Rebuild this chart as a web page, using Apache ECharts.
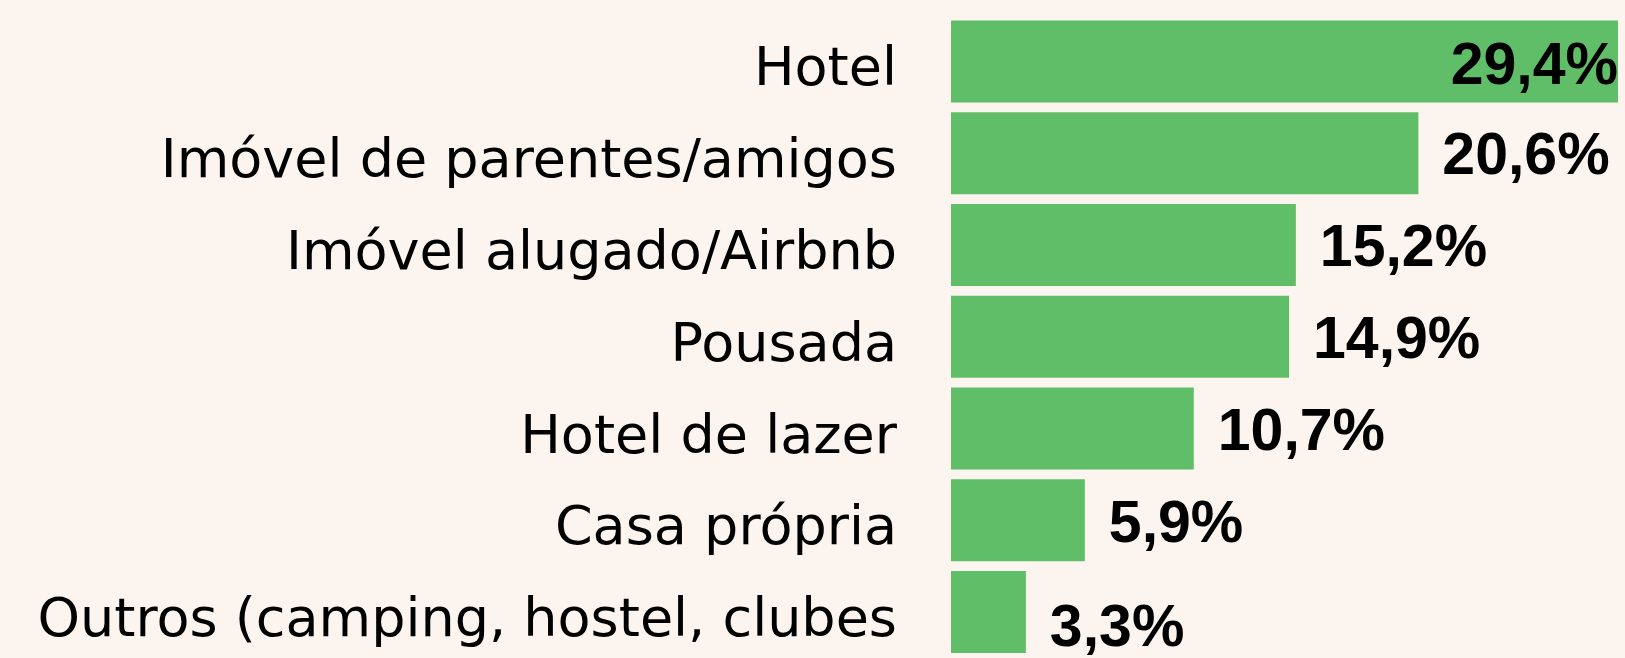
<!DOCTYPE html>
<html>
<head>
<meta charset="utf-8">
<script src="https://cdn.jsdelivr.net/npm/echarts@6/dist/echarts.min.js"></script>
<style>
html,body{margin:0;padding:0;background:#FCF4EF;}
#c{width:1625px;height:658px;}
</style>
</head>
<body>
<div id="c"></div>
<script>
const categories = [
  "Hotel",
  "Imóvel de parentes/amigos",
  "Imóvel alugado/Airbnb",
  "Pousada",
  "Hotel de lazer",
  "Casa própria",
  "Outros (camping, hostel, clubes"
];
const values = [29.4, 20.6, 15.2, 14.9, 10.7, 5.9, 3.3];

const chart = echarts.init(document.getElementById('c'), null, {renderer: 'canvas'});
const fmt = v => v.toFixed(1).replace('.', ',') + '%';

const seriesData = values.map((v, i) => ({
  value: v,
  label: i === 0 ? {position: 'insideRight', distance: 0, offset: [0, 6]}
       : {position: 'right', distance: 24, offset: [0, i === values.length - 1 ? 18 : 5]}
}));

chart.setOption({
  backgroundColor: '#FCF4EF',
  animation: false,
  grid: {left: 951, right: 7, top: 15.5, height: 646.8, containLabel: false},
  xAxis: {
    type: 'value', min: 0, max: 29.4,
    show: false
  },
  yAxis: {
    type: 'category', data: categories, inverse: true,
    axisLine: {show: false}, axisTick: {show: false},
    axisLabel: {
      interval: 0,
      margin: 54, color: '#000', fontFamily: 'DejaVu Sans', fontSize: 54, align: 'right',
      verticalAlign: 'top', lineHeight: 20
    }
  },
  series: [{
    type: 'bar',
    data: seriesData,
    barWidth: 82,
    itemStyle: {color: '#5FBE67'},
    label: {
      show: true,
      formatter: p => fmt(p.value),
      color: '#000', fontFamily: 'Liberation Sans', fontWeight: 'bold', fontSize: 59
    }
  }]
});
</script>
</body>
</html>
